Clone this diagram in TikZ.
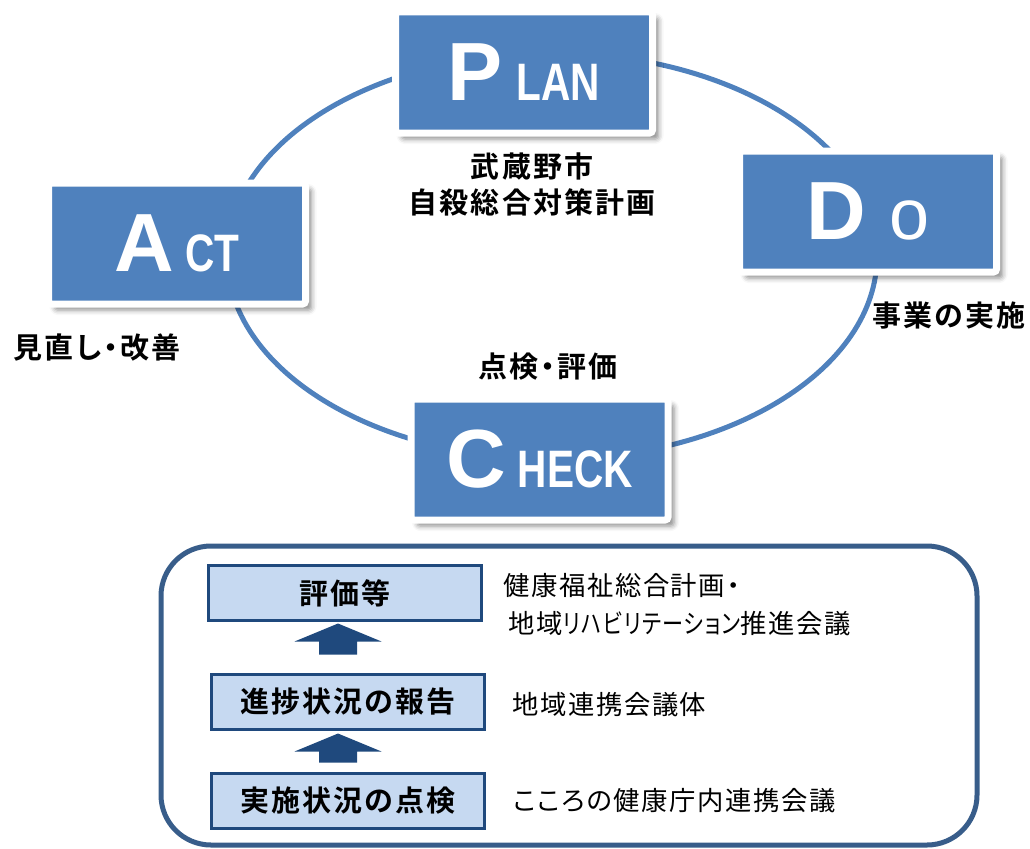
\documentclass[tikz,border=0pt]{standalone}
\usepackage{graphicx}
\usepackage{fontspec}
\usetikzlibrary{calc, positioning, shadows, shadows.blur}
\setmainfont{Liberation Sans}
\newfontfamily\jpbold{Noto Sans CJK JP Bold}[LetterSpace=7, RawFeature=+palt]
\newfontfamily\jpreg{Noto Sans CJK JP}[LetterSpace=6, RawFeature=+palt]
\definecolor{bleu}{RGB}{79,129,189}
\definecolor{bleucadre}{RGB}{56,93,138}
\definecolor{bleuclair}{RGB}{198,217,241}
\definecolor{bleufonce}{RGB}{31,73,125}
\newdimen\pxu \pxu=0.02cm
\newcommand\grand[1]{{\fontsize{47}{47}\selectfont\bfseries #1}}
\newcommand\petit[1]{\scalebox{0.77}[1]{\fontsize{30}{30}\selectfont\bfseries #1}}

\begin{document}
\begin{tikzpicture}[x=0.02cm, y=-0.02cm]
  \tikzstyle{etape}=[fill=bleu, draw=white, line width=7\pxu,
    rounded corners=3\pxu, minimum width=257\pxu, minimum height=121\pxu,
    inner sep=0pt, text=white,
    blur shadow={shadow xshift=6\pxu, shadow yshift=-6\pxu,
      shadow blur radius=5\pxu, shadow opacity=45}]
  \tikzstyle{legende}=[font=\jpbold\fontsize{16.5}{20.5}\selectfont, inner sep=0pt]
  \tikzstyle{niveau}=[fill=bleuclair, draw=bleufonce, line width=3\pxu,
    minimum width=273\pxu, minimum height=55\pxu, inner sep=0pt,
    font=\jpbold\fontsize{16.5}{20}\selectfont]
  \tikzstyle{organe}=[anchor=west, inner sep=0pt,
    font=\jpreg\fontsize{15}{22}\selectfont]
  \tikzstyle{fleche}=[fill=bleufonce]
  \useasboundingbox (0,0) rectangle (1030,848);
  % cycle PDCA
  \draw[bleu, line width=5\pxu] (552,256) ellipse [x radius=325\pxu, y radius=203\pxu];
  \node[etape] (plan) at (524,72.5) {\grand{P}\hspace{8pt}\petit{LAN}};
  \node[etape] (do) at (868,211.5) {\grand{D}\hspace{13pt}{\fontsize{41}{41}\selectfont o}};
  \node[etape] (act) at (177,243.5) {\grand{A}\hspace{6pt}\petit{CT}};
  \node[etape] (check) at (539.5,459.5) {\grand{C}\hspace{7pt}\petit{HECK}};
  \node[legende, align=center] (planlbl) at (532,184) {武蔵野市\\自殺総合対策計画};
  \node[legende] (dolbl) at (949,316) {事業の実施};
  \node[legende] (actlbl) at (97,347) {見直し・改善};
  \node[legende] (checklbl) at (548,367) {点検・評価};
  % suivi
  \draw[bleucadre, line width=5\pxu, rounded corners=50\pxu] (161,546) rectangle (977,845);
  \node[niveau] (hyouka) at (345,593) {評価等};
  \node[niveau] (shinchoku) at (348,702) {進捗状況の報告};
  \node[niveau] (jisshi) at (348,800.5) {実施状況の点検};
  \node[organe, align=left] (kenko) at (503,604.5) {健康福祉総合計画・\\\hspace*{3pt}地域\scalebox{0.8}[1]{リハビリテーション}推進会議};
  \node[organe] (chiiki) at (512,705) {地域連携会議体};
  \node[organe] (kokoro) at (513,801) {こころの健康庁内連携会議};
  \coordinate (t1) at ($(hyouka.south)+(-7,1.5)$);
  \coordinate (b1) at ($(shinchoku.north)+(-10,-18.5)$);
  \coordinate (t2) at ($(shinchoku.south)+(-10,2.5)$);
  \coordinate (b2) at ($(jisshi.north)+(-10,-9)$);
  \fill[fleche] (t1) -- ++(43.5,18) -- ++(-24.5,0) |- ($(b1)+(19,0)$)
    -- ++(-38,0) |- ($(t1)+(-43.5,18)$) -- cycle;
  \fill[fleche] (t2) -- ++(43.5,18) -- ++(-24.5,0) |- ($(b2)+(19,0)$)
    -- ++(-38,0) |- ($(t2)+(-43.5,18)$) -- cycle;
\end{tikzpicture}
\end{document}
